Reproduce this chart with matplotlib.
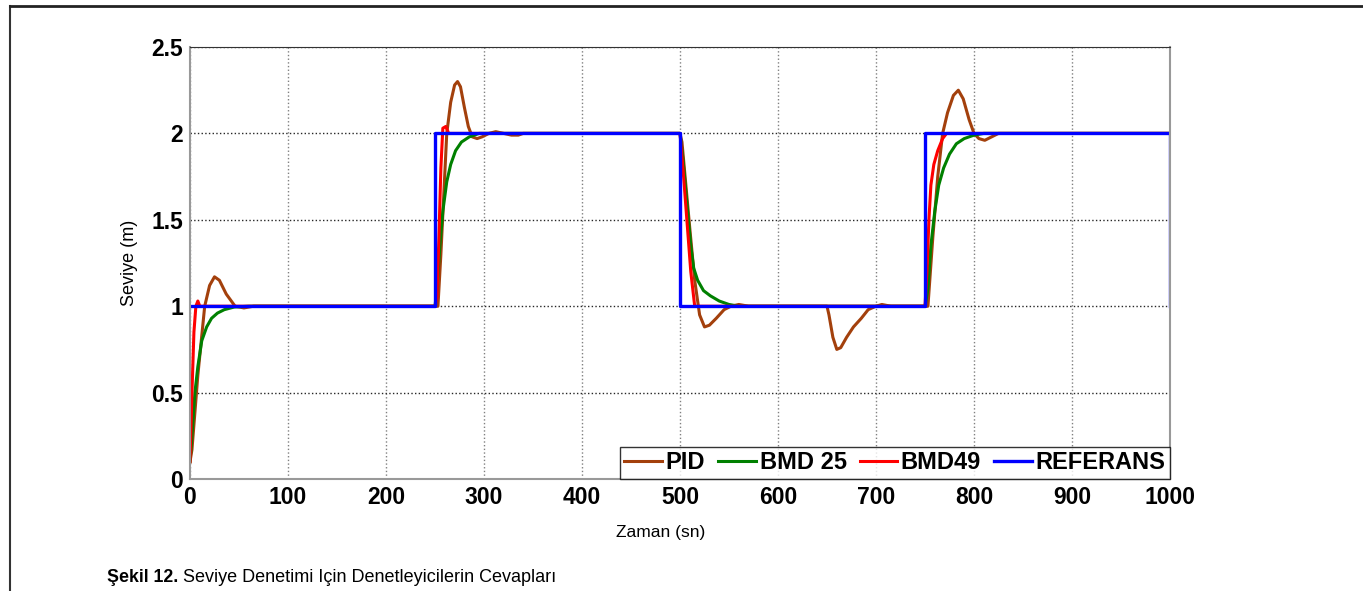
import matplotlib
matplotlib.use("Agg")
import matplotlib.pyplot as plt
from matplotlib.lines import Line2D

plt.rcParams['font.family'] = ['Liberation Sans', 'DejaVu Sans']

# seviye cevaplari (okunan degerler)
ref_t = [0, 250, 250, 500, 500, 750, 750, 1000, 1000]
ref_y = [1, 1, 2, 2, 1, 1, 2, 2, 1]

pid_t = [0, 2, 8, 15, 20, 25, 30, 37, 46, 55, 65,
         250, 253, 256, 259, 262, 266, 270, 273, 276, 280, 284, 288, 293, 298, 305, 312, 320, 328, 335, 340,
         500, 502, 506, 510, 515, 520, 525, 530, 537, 545, 552, 560, 570,
         650, 652, 656, 660, 664, 670, 677, 685, 692, 700, 706, 715,
         750, 753, 758, 763, 768, 773, 779, 784, 789, 795, 800, 805, 811, 818, 825, 1000]
pid_y = [0.1, 0.17, 0.6, 1.0, 1.12, 1.17, 1.15, 1.07, 1.0, 0.99, 1.0,
         1.0, 1.0, 1.3, 1.65, 2.0, 2.18, 2.28, 2.3, 2.27, 2.15, 2.04, 1.98, 1.97, 1.98, 2.0, 2.01, 2.0, 1.99, 1.99, 2.0,
         2.0, 1.95, 1.7, 1.45, 1.15, 0.95, 0.88, 0.89, 0.93, 0.98, 1.0, 1.01, 1.0,
         1.0, 0.95, 0.82, 0.75, 0.76, 0.82, 0.88, 0.93, 0.98, 1.0, 1.01, 1.0,
         1.0, 1.0, 1.4, 1.75, 2.0, 2.12, 2.22, 2.25, 2.2, 2.08, 2.0, 1.97, 1.96, 1.98, 2.0, 2.0]

bmd25_t = [0, 2, 5, 8, 12, 17, 22, 28, 35, 45, 60,
           250, 252, 255, 258, 262, 266, 271, 277, 285, 295,
           500, 503, 507, 511, 514, 518, 524, 531, 540, 550, 560,
           750, 753, 756, 760, 764, 769, 775, 782, 790, 800, 810, 1000]
bmd25_y = [0.1, 0.25, 0.5, 0.65, 0.8, 0.88, 0.93, 0.96, 0.98, 0.995, 1.0,
           1.0, 1.1, 1.35, 1.55, 1.72, 1.82, 1.9, 1.95, 1.98, 2.0,
           2.0, 1.85, 1.6, 1.35, 1.22, 1.15, 1.09, 1.06, 1.03, 1.01, 1.0,
           1.0, 1.1, 1.35, 1.55, 1.7, 1.8, 1.88, 1.94, 1.97, 1.99, 2.0, 2.0]

bmd49_t = [0, 2, 4, 6, 8, 10,
           250, 252, 254, 256, 258, 261, 264,
           500, 503, 507, 511, 515,
           750, 752, 754, 756, 759, 763, 768, 772, 1000]
bmd49_y = [0.1, 0.5, 0.85, 1.0, 1.03, 1.0,
           1.0, 1.05, 1.4, 1.8, 2.03, 2.04, 2.0,
           2.0, 1.8, 1.5, 1.2, 1.0,
           1.0, 1.2, 1.5, 1.7, 1.82, 1.9, 1.97, 2.0, 2.0]

labels = ["PID", "BMD 25", "BMD49", "REFERANS"]
colors = ["#a3400c", "#008000", "#ff0000", "#0000ff"]

fig = plt.figure(figsize=(13.63, 5.91), dpi=100)

# sayfa cercevesi
fig.add_artist(Line2D([10/1363, 10/1363], [0, 1 - 6/591], color="#333333", lw=1.5))
fig.add_artist(Line2D([10/1363, 1], [1 - 6/591, 1 - 6/591], color="#222222", lw=2))

ax = fig.add_axes([190/1363, 1 - 479/591, 980/1363, 432/591])

ax.plot(pid_t, pid_y, color=colors[0], lw=2.2, label=labels[0])
ax.plot(bmd25_t, bmd25_y, color=colors[1], lw=2.2, label=labels[1])
ax.plot(bmd49_t, bmd49_y, color=colors[2], lw=2.2, label=labels[2])
ax.plot(ref_t, ref_y, color=colors[3], lw=2.4, label=labels[3])

ax.set_xlim(0, 1000)
ax.set_ylim(0, 2.5)
ax.set_xticks(range(0, 1001, 100))
ax.set_yticks([0, 0.5, 1, 1.5, 2, 2.5])
ax.set_yticklabels(["0", "0.5", "1", "1.5", "2", "2.5"])
ax.tick_params(length=0, labelsize=16.5)
ax.tick_params(axis="x", pad=5)
ax.tick_params(axis="y", pad=5)
for lab in ax.get_xticklabels() + ax.get_yticklabels():
    lab.set_fontweight("bold")

ax.xaxis.grid(True, linestyle=":", color="0.5", lw=1)
ax.yaxis.grid(True, linestyle=":", color="0.15", lw=1)
ax.set_axisbelow(True)

for s in ["left", "right", "bottom"]:
    ax.spines[s].set_color("0.6")
    ax.spines[s].set_linewidth(1.5)
ax.spines["top"].set_color("0.2")

ax.set_xlabel("Zaman (sn)", fontsize=12.5)
ax.xaxis.set_label_coords(0.48, -0.106)
ax.set_ylabel("Seviye (m)", fontsize=13)
ax.yaxis.set_label_coords(-0.053, 0.5)

leg = ax.legend(loc="lower right", ncol=4, prop={"weight": "bold", "size": 17},
                frameon=True, fancybox=False, edgecolor="black", borderaxespad=0,
                handlelength=1.6, handletextpad=0.15, columnspacing=0.55,
                borderpad=0.2)
leg.get_frame().set_linewidth(1)

fig.text(107/1363, 1 - 578/591, "Şekil 12.", fontsize=12.75, fontweight="bold", va="center")
fig.text(183/1363, 1 - 578/591, "Seviye Denetimi Için Denetleyicilerin Cevapları", fontsize=13, va="center")

fig.savefig("out.png", dpi=100)
